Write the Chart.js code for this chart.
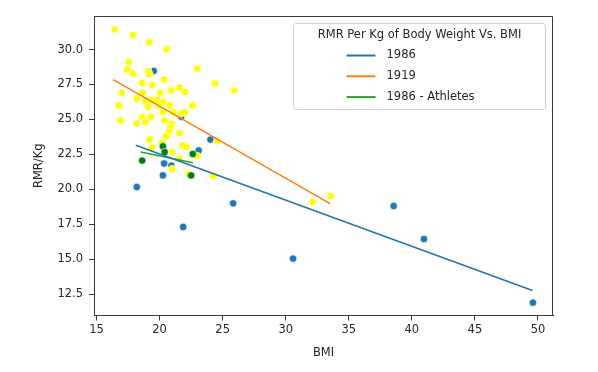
<!DOCTYPE html>
<html>
<head>
<meta charset="utf-8">
<script src="https://cdn.jsdelivr.net/npm/chart.js@4/dist/chart.umd.min.js"></script>
<style>
  body { margin: 0; background: #fff; }
  #wrap { width: 598px; height: 372px; }
</style>
</head>
<body>
<div id="wrap"><canvas id="rmrChart" width="598" height="372"></canvas></div>
<script>
// BMI / RMR-per-kg points
let points1986 = [
  [19.54, 28.47], [21.7, 25.2], [24.03, 23.56], [23.1, 22.78], [20.36, 21.85],
  [20.94, 21.7], [20.26, 21.0], [18.19, 20.17], [21.87, 17.31], [25.83, 19.0],
  [30.58, 15.05], [38.56, 18.81], [40.96, 16.45], [49.6, 11.9]
];

let points1919 = [
  [16.45, 31.43], [17.88, 31.02], [19.18, 30.52], [20.57, 30.02], [17.56, 29.11],
  [17.43, 28.57], [17.88, 28.28], [19.1, 28.45], [19.2, 28.23], [23.0, 28.64],
  [20.36, 27.85], [18.62, 27.61], [19.41, 27.47], [24.4, 27.57], [25.91, 27.07],
  [16.98, 26.9], [18.19, 26.49], [18.67, 26.9], [20.05, 26.9], [20.92, 27.07],
  [21.58, 27.28], [22.0, 26.97], [16.77, 26.0], [18.99, 26.02], [22.63, 26.0],
  [18.86, 26.37], [19.36, 26.37], [19.83, 26.37], [20.28, 26.25], [20.81, 26.0],
  [19.94, 25.97], [19.1, 25.92],
  [16.9, 24.92], [18.17, 24.71], [18.64, 25.18], [19.3, 25.18], [18.88, 24.82],
  [20.28, 25.51], [20.41, 24.92], [21.07, 25.51], [21.68, 25.42], [22.03, 25.51],
  [20.96, 24.71], [20.86, 24.42], [20.73, 24.11], [20.52, 23.8], [21.58, 24.03],
  [19.2, 23.56], [20.2, 23.32], [21.83, 23.15], [22.13, 23.03], [24.56, 23.44],
  [19.41, 22.99], [21.0, 22.67], [22.98, 22.39], [21.0, 21.46], [21.58, 22.17],
  [22.31, 21.13], [24.24, 20.96], [32.14, 19.1], [33.57, 19.51]
];

let pointsAthletes = [
  [20.26, 23.08], [20.4, 22.67], [22.63, 22.53], [18.62, 22.06], [22.5, 21.0]
];

// fitted lines (end points)
let fit1986 = [[18.11, 23.15], [49.57, 12.76]];
let fit1919 = [[16.32, 27.85], [33.52, 18.98]];
let fitAthletes = [[18.51, 22.67], [22.63, 21.9]];

let xTicks = [15, 20, 25, 30, 35, 40, 45, 50];
let yTicks = [12.5, 15.0, 17.5, 20.0, 22.5, 25.0, 27.5, 30.0];

let legendTitle = 'RMR Per Kg of Body Weight Vs. BMI';

const FONT = "'DejaVu Sans', sans-serif";
const TEXT = '#262626';
const SPINE = '#3a3a3a';

function toXY(arr) {
    return arr.map(p => ({x: p[0], y: p[1]}));
}

// higher order = drawn further back
function dots(data, color, order) {
    return {
        type: 'scatter',
        data: toXY(data),
        backgroundColor: color,
        borderColor: '#ffffff',
        borderWidth: 0.6,
        pointRadius: 3.7,
        order: order
    };
}

function fitLine(label, data, color) {
    return {
        type: 'line',
        label: label,
        data: toXY(data),
        borderColor: color,
        borderWidth: 1.6,
        pointRadius: 0,
        fill: false,
        tension: 0,
        order: 1
    };
}

// top/right spines + legend box inside the plot
const framePlugin = {
    id: 'frame',
    afterDraw(chart) {
        const c = chart.ctx;
        const a = chart.chartArea;
        c.save();
        c.strokeStyle = SPINE;
        c.lineWidth = 1;
        c.beginPath();
        c.moveTo(a.left, a.top + 0.5);
        c.lineTo(a.right - 0.5, a.top + 0.5);
        c.lineTo(a.right - 0.5, a.bottom);
        c.stroke();

        // legend
        let bx = 293.5, by = 23.5, bw = 252, bh = 86;
        c.fillStyle = 'rgba(255,255,255,0.8)';
        c.strokeStyle = '#d0d0d0';
        c.beginPath();
        c.roundRect(bx, by, bw, bh, 3);
        c.fill();
        c.stroke();

        c.font = '11.5px ' + FONT;
        c.fillStyle = TEXT;
        c.textBaseline = 'middle';
        c.textAlign = 'center';
        c.fillText(legendTitle, bx + bw / 2, by + 12);

        c.textAlign = 'left';
        let lines = chart.data.datasets.filter(d => d.type === 'line');
        lines.forEach((d, i) => {
            let y = by + 32 + i * 20.8;
            c.strokeStyle = d.borderColor;
            c.lineWidth = 2;
            c.beginPath();
            c.moveTo(bx + 53, y);
            c.lineTo(bx + 82, y);
            c.stroke();
            c.fillStyle = TEXT;
            c.fillText(d.label, bx + 93, y);
        });
        c.restore();
    }
};

let ctx = document.getElementById('rmrChart').getContext('2d');
let chart = new Chart(ctx, {
    type: 'scatter',
    data: {
        datasets: [
            dots(points1986, '#1f77b4', 4),
            dots(points1919, '#ffff00', 3),
            dots(pointsAthletes, '#008000', 2),
            fitLine('1986', fit1986, '#1f77b4'),
            fitLine('1919', fit1919, '#ff7f0e'),
            fitLine('1986 - Athletes', fitAthletes, '#2ca02c')
        ]
    },
    options: {
        responsive: false,
        animation: false,
        layout: { padding: { top: 16, right: 45, bottom: 12, left: 0 } },
        plugins: {
            legend: { display: false },
            tooltip: { enabled: false }
        },
        scales: {
            x: {
                type: 'linear',
                min: 14.8,
                max: 51.19,
                afterBuildTicks: s => { s.ticks = xTicks.map(v => ({value: v})); },
                afterFit: s => { s.height = 44.5; },
                grid: { drawOnChartArea: false, drawTicks: true, tickLength: 5, tickColor: SPINE },
                border: { display: true, color: SPINE, width: 1 },
                ticks: { color: TEXT, font: { family: FONT, size: 11.5 }, padding: 3, maxRotation: 0 },
                title: { display: true, text: 'BMI', color: TEXT, font: { family: FONT, size: 11.5 }, padding: { top: 6, bottom: 0 } }
            },
            y: {
                type: 'linear',
                min: 10.98,
                max: 32.4,
                afterBuildTicks: s => { s.ticks = yTicks.map(v => ({value: v})); },
                afterFit: s => { s.width = 94; },
                grid: { drawOnChartArea: false, drawTicks: true, tickLength: 5, tickColor: SPINE },
                border: { display: true, color: SPINE, width: 1 },
                ticks: { color: TEXT, font: { family: FONT, size: 11.5 }, padding: 6, callback: v => v.toFixed(1) },
                title: { display: true, text: 'RMR/Kg', color: TEXT, font: { family: FONT, size: 11.5 }, padding: { top: 32, bottom: 0 } }
            }
        }
    },
    plugins: [framePlugin]
});
</script>
</body>
</html>
